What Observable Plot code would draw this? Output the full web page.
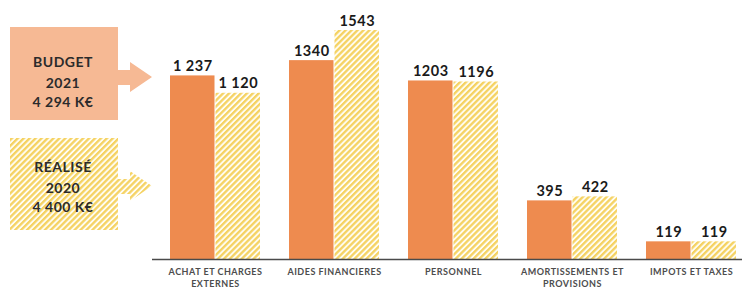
<!DOCTYPE html>
<html>
<head>
<meta charset="utf-8">
<script src="https://cdn.jsdelivr.net/npm/d3@7"></script>
<script src="https://cdn.jsdelivr.net/npm/@observablehq/plot@0.6"></script>
<style>
  html, body { margin: 0; padding: 0; background: #fff; }
  #wrap { position: relative; width: 742px; height: 289px; }
  #legend { position: absolute; left: 0; top: 0; }
  #wrap svg text { letter-spacing: 0.5px; }
</style>
</head>
<body>
<div id="wrap"></div>
<script>
const categories = ["ACHAT ET CHARGES\nEXTERNES", "AIDES FINANCIERES", "PERSONNEL", "AMORTISSEMENTS ET\nPROVISIONS", "IMPOTS ET TAXES"];
const budget2021 = [1237, 1340, 1203, 395, 119];
const realise2020 = [1120, 1543, 1196, 422, 119];
const budgetLabels = ["1 237", "1340", "1203", "395", "119"];
const realiseLabels = ["1 120", "1543", "1196", "422", "119"];

const rows = categories.map((c, i) => ({
  cat: c,
  budget: budget2021[i],
  realise: realise2020[i],
  bl: budgetLabels[i],
  rl: realiseLabels[i]
}));

const FONT = "Lato, 'Noto Sans', sans-serif";
const half = 45.5;

const chart = Plot.plot({
  width: 742,
  height: 289,
  marginLeft: 152,
  marginRight: 0,
  marginTop: 30,
  marginBottom: 30,
  style: { background: "#fff", fontFamily: FONT },
  x: { type: "band", domain: categories, paddingInner: 0.24, paddingOuter: 0.0835, align: 0.75, axis: null },
  y: { domain: [0, 1543], axis: null },
  marks: [
    Plot.barY(rows, { x: "cat", y: "budget", fill: "#ee8b4f", insetRight: half }),
    Plot.barY(rows, { x: "cat", y: "realise", fill: "url(#hatch)", insetLeft: half }),
    Plot.ruleY([0], { stroke: "#4a4a4a", strokeWidth: 1.5 }),
    Plot.text(rows, { x: "cat", y: "budget", text: "bl", dx: -half / 2, dy: -5, lineAnchor: "bottom",
      fontSize: 14.5, fontWeight: "bold", fill: "#1a1a1a" }),
    Plot.text(rows, { x: "cat", y: "realise", text: "rl", dx: half / 2, dy: -5, lineAnchor: "bottom",
      fontSize: 14.5, fontWeight: "bold", fill: "#1a1a1a" }),
    Plot.text(rows, { x: "cat", y: () => 0, text: "cat", dy: 7, lineAnchor: "top", lineHeight: 1.3,
      fontSize: 9, fontWeight: "bold", fill: "#4d4d4d" })
  ]
});

document.getElementById("wrap").appendChild(chart);

const legendSvg = `
<svg id="legend" width="160" height="289" xmlns="http://www.w3.org/2000/svg">
  <defs>
    <pattern id="hatch" patternUnits="userSpaceOnUse" width="4.2" height="4.2" patternTransform="rotate(45)">
      <rect x="0" y="0" width="4.2" height="4.2" fill="#fffdf3"></rect>
      <rect x="0" y="0" width="2.3" height="4.2" fill="#f5d262"></rect>
    </pattern>
  </defs>
  <path d="M10,27 H118 V70 H130 V62 L152,77 L130,92 V85 H118 V120 H10 Z" fill="#f6b994"></path>
  <g font-family="${FONT}" font-weight="bold" font-size="14" fill="#2b2b2b" text-anchor="middle">
    <text x="63" y="67">BUDGET</text>
    <text x="63" y="88">2021</text>
    <text x="63" y="107">4 294 K€</text>
  </g>
  <path d="M10,138 H118 V179 H130 V171 L152,186 L130,201 V194 H118 V230 H10 Z" fill="url(#hatch)"></path>
  <g font-family="${FONT}" font-weight="bold" font-size="14" fill="#2b2b2b" text-anchor="middle">
    <text x="63" y="172">RÉALISÉ</text>
    <text x="63" y="193">2020</text>
    <text x="63" y="212">4 400 K€</text>
  </g>
</svg>`;
document.getElementById("wrap").insertAdjacentHTML("beforeend", legendSvg);
</script>
</body>
</html>
